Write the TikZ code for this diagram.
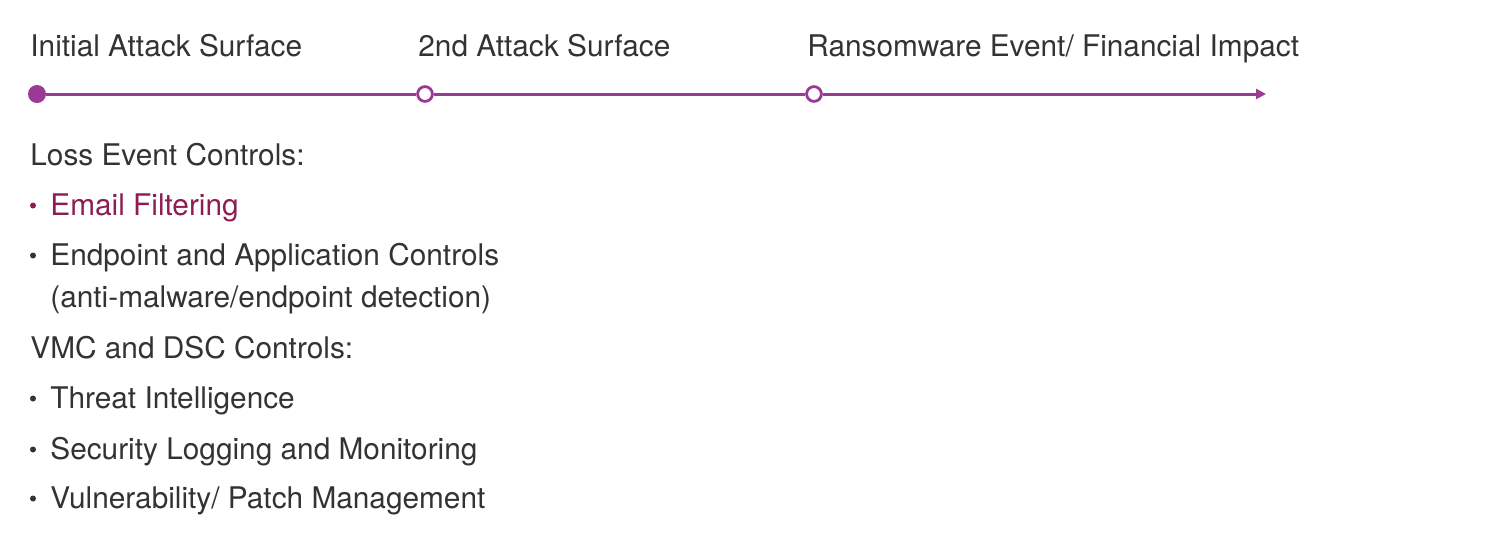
\documentclass[tikz,border=0pt]{standalone}
\usepackage{fontspec}
\setmainfont{TeX Gyre Heros}
\usetikzlibrary{arrows.meta}
\definecolor{tlpurple}{HTML}{9B3A96}
\definecolor{emailred}{HTML}{8C1D55}
\definecolor{txtgrey}{HTML}{333333}

\begin{document}
\begin{tikzpicture}[x=0.5pt, y=-0.5pt, every node/.style={font=\fontsize{14.9}{18}\selectfont, text=txtgrey, inner sep=0pt, anchor=base west}]
    \useasboundingbox (0,0) rectangle (1500,538);
    \tikzset{
        fulldot/.style={circle, fill=tlpurple, minimum size=9pt, anchor=center},
        opendot/.style={circle, draw=tlpurple, line width=1.4pt, fill=white, minimum size=7.4pt, anchor=center},
        tline/.style={draw=tlpurple, line width=1.5pt},
        bul/.style={circle, fill=#1, minimum size=3pt, anchor=center},
        bul/.default=txtgrey
    }

    % timeline
    \node[fulldot] (p1) at (37,94) {};
    \node[opendot] (p2) at (425,94) {};
    \node[opendot] (p3) at (814,94) {};
    \coordinate (pend) at (1266,94);

    \draw[tline] (p1) -- (p2);
    \draw[tline] (p2) -- (p3);
    \draw[tline, -{Triangle[length=5pt, width=5pt]}] (p3) -- (pend);

    \node (s1) at (30,56) {Initial Attack Surface};
    \node (s2) at (418,56) {2nd Attack Surface};
    \node (s3) at (807,56) {Ransomware Event/ Financial Impact};

    % controls
    \node (loss) at (30,165) {Loss Event Controls:};
    \node[bul=emailred] (b1) at (33,205.5) {};
    \node[text=emailred] (email) at (50,215) {Email Filtering};
    \node[bul] (b2) at (33,255.5) {};
    \node (endp) at (50,265) {Endpoint and Application Controls};
    \node (anti) at (50,307) {(anti-malware/endpoint detection)};
    \node (vmc) at (30,358) {VMC and DSC Controls:};
    \foreach \y/\name/\txt in {408/threat/{Threat Intelligence}, 459/logging/{Security Logging and Monitoring}, 508/vuln/{Vulnerability/ Patch Management}}
    {
        \node[bul] (b-\name) at (33,\y-9.5) {};
        \node (\name) at (50,\y) {\txt};
    }
\end{tikzpicture}
\end{document}
